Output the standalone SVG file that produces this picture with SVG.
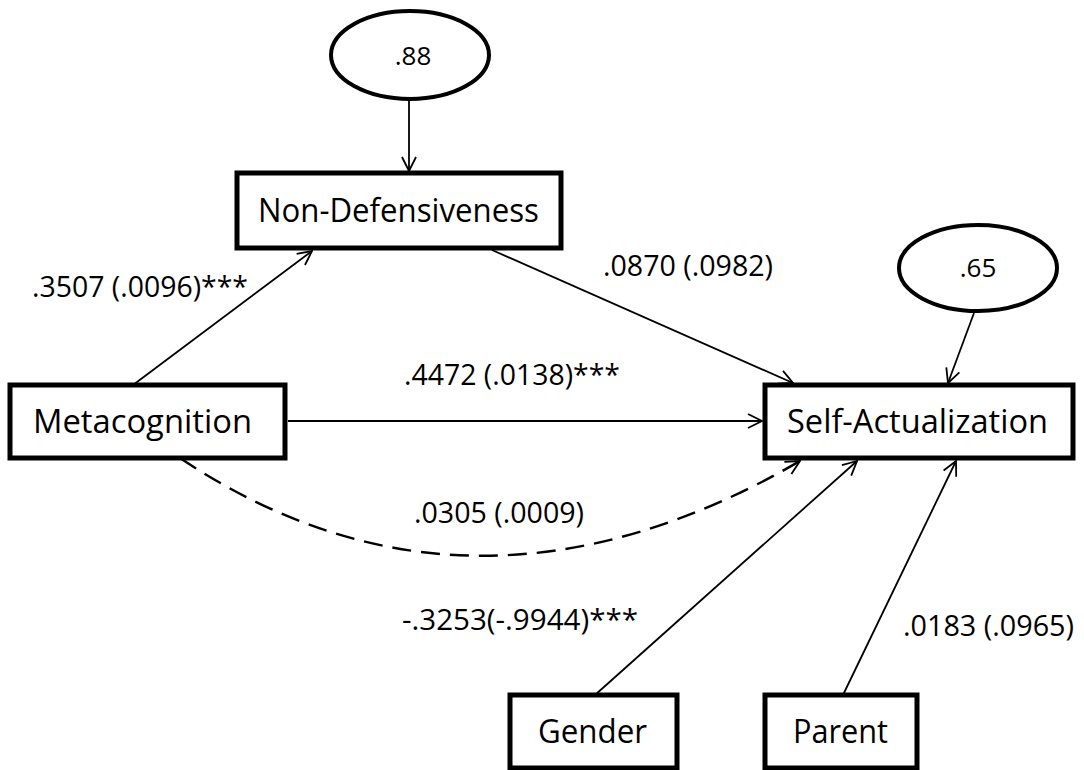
<svg xmlns="http://www.w3.org/2000/svg" width="1084" height="770" viewBox="0 0 1084 770">
  <style>
    .box { fill: #ffffff; stroke: #000000; stroke-width: 5; }
    .err { fill: #ffffff; stroke: #000000; stroke-width: 4; }
    .node-text { font-family: "Open Sans", "Noto Sans", sans-serif; font-size: 33px; fill: #000000; }
    .err-text { font-family: "Open Sans", "Noto Sans", sans-serif; font-size: 26px; fill: #000000; text-anchor: middle; }
    .label { font-family: "Open Sans", "Noto Sans", sans-serif; font-size: 29px; fill: #000000; }
    .path { fill: none; stroke: #000000; stroke-width: 1.8; marker-end: url(#open-arrow); }
    .dashed { fill: none; stroke: #000000; stroke-width: 2.4; stroke-dasharray: 19 10; marker-end: url(#open-arrow); }
  </style>
  <defs>
    <marker id="open-arrow" viewBox="0 0 16 16" refX="15" refY="8" markerWidth="16" markerHeight="16" markerUnits="userSpaceOnUse" orient="auto">
      <path d="M1,1 L15,8 L1,15" fill="none" stroke="#000000" stroke-width="1.8"/>
    </marker>
  </defs>

  <rect width="1084" height="770" fill="#ffffff"/>

  <!-- paths between variables -->
  <g id="connectors">
    <line class="path" x1="409" y1="100" x2="409" y2="171"/>
    <line class="path" x1="974" y1="313" x2="948" y2="383"/>
    <line class="path" x1="133" y1="385" x2="312" y2="251"/>
    <line class="path" x1="492" y1="250" x2="793" y2="383"/>
    <line class="path" x1="288" y1="421" x2="762" y2="421"/>
    <path class="dashed" d="M180,458 Q470,652 800,461"/>
    <line class="path" x1="595" y1="695" x2="857" y2="461"/>
    <line class="path" x1="843" y1="695" x2="956" y2="461"/>
  </g>

  <!-- residual terms -->
  <g id="err-nondef">
    <ellipse class="err" cx="410" cy="55" rx="79" ry="44"/>
    <text class="err-text" x="413" y="65">.88</text>
  </g>
  <g id="err-selfact">
    <ellipse class="err" cx="978" cy="268" rx="79" ry="43"/>
    <text class="err-text" x="978" y="277">.65</text>
  </g>

  <!-- observed variables -->
  <g id="non-defensiveness">
    <rect class="box" x="237" y="173" width="324" height="75"/>
    <text class="node-text" x="258" y="222" textLength="281" lengthAdjust="spacingAndGlyphs">Non-Defensiveness</text>
  </g>
  <g id="metacognition">
    <rect class="box" x="10" y="385" width="275" height="73"/>
    <text class="node-text" x="33" y="433" textLength="219" lengthAdjust="spacingAndGlyphs">Metacognition</text>
  </g>
  <g id="self-actualization">
    <rect class="box" x="765" y="385" width="308" height="73"/>
    <text class="node-text" x="787" y="433" textLength="261" lengthAdjust="spacingAndGlyphs">Self-Actualization</text>
  </g>
  <g id="gender">
    <rect class="box" x="510" y="695" width="167" height="73"/>
    <text class="node-text" x="538" y="743" textLength="109" lengthAdjust="spacingAndGlyphs">Gender</text>
  </g>
  <g id="parent">
    <rect class="box" x="765" y="695" width="152" height="73"/>
    <text class="node-text" x="793" y="743" textLength="95" lengthAdjust="spacingAndGlyphs">Parent</text>
  </g>

  <!-- path coefficients -->
  <g id="coefficients">
    <text class="label" x="32" y="297" textLength="216" lengthAdjust="spacingAndGlyphs">.3507 (.0096)***</text>
    <text class="label" x="603" y="276" textLength="170" lengthAdjust="spacingAndGlyphs">.0870 (.0982)</text>
    <text class="label" x="404" y="385" textLength="216" lengthAdjust="spacingAndGlyphs">.4472 (.0138)***</text>
    <text class="label" x="414" y="523" textLength="170" lengthAdjust="spacingAndGlyphs">.0305 (.0009)</text>
    <text class="label" x="402" y="630" textLength="236" lengthAdjust="spacingAndGlyphs">-.3253(-.9944)***</text>
    <text class="label" x="903" y="636" textLength="171" lengthAdjust="spacingAndGlyphs">.0183 (.0965)</text>
  </g>
</svg>
